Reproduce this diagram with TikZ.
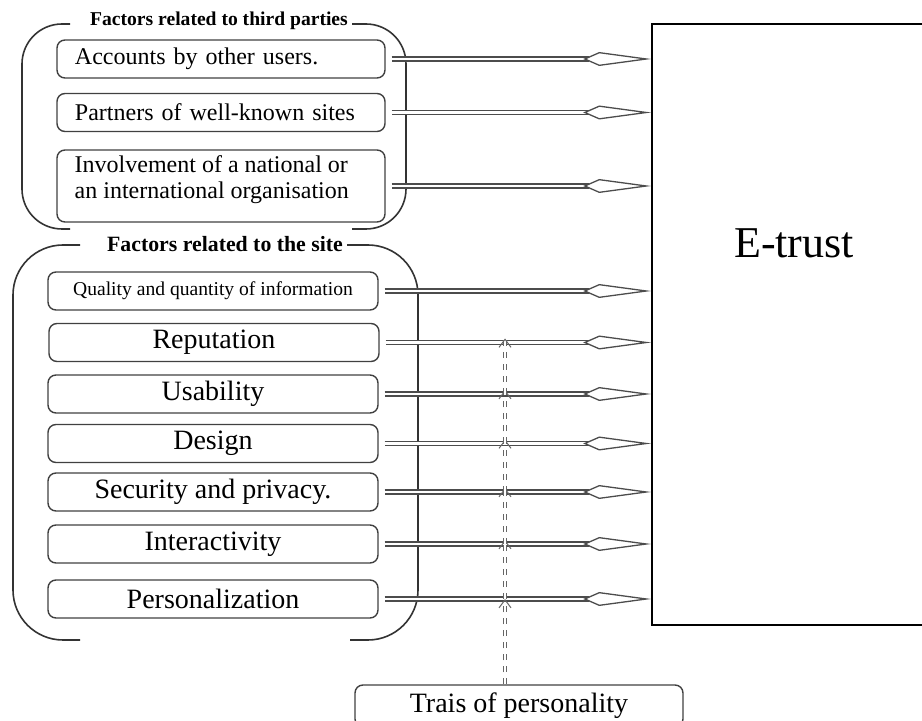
\documentclass[tikz,border=0pt]{standalone}
\usepackage{fontspec}
\setmainfont{Liberation Serif}
\usetikzlibrary{arrows.meta}

\begin{document}
\begin{tikzpicture}[x=0.5pt, y=-0.5pt,
  factor/.style={draw=black!75, line width=0.7pt, rounded corners=4pt, inner sep=0pt, minimum height=19pt},
  thirdbox/.style={factor, font=\fontsize{12}{13}\selectfont, text width=146pt, inner xsep=9pt, align=left},
  sitebox/.style={factor, font=\fontsize{14}{16}\selectfont, minimum width=165pt},
  group/.style={draw=black!80, line width=0.8pt},
  grouptitle/.style={font=\bfseries, inner sep=1pt},
  link/.style={draw=black!70, line width=0.65pt, double=white, double distance=1.3pt,
    -{Kite[open, length=34pt, width=7pt, inset=8pt]}},
  traitlink/.style={draw=black!60, dashed, line width=0.5pt, double=white, double distance=1.3pt,
    -{Straight Barb[length=4pt, width=6pt]}}]

\useasboundingbox (0,0) rectangle (922,721);

% Groupes
\draw[group, rounded corners=20pt] (70,24) -- (22,24) -- (22,229) -- (70,229);
\draw[group, rounded corners=20pt] (352,24) -- (406,24) -- (406,229) -- (352,229);
\node[grouptitle, font=\bfseries\fontsize{9.8}{11}\selectfont] (thirdtitle) at (219,21) {Factors related to third parties};

\draw[group, rounded corners=25pt] (80,245) -- (13,245) -- (13,640) -- (80,640);
\draw[group, rounded corners=25pt] (347,245) -- (418,245) -- (418,640) -- (350,640);
\node[grouptitle, font=\bfseries\fontsize{10.9}{12}\selectfont] (sitetitle) at (225,244) {Factors related to the site};

% Facteurs tiers
\node[thirdbox] (accounts) at (221,59) {Accounts by other users.};
\node[thirdbox] (partners) at (221,112.5) {Partners of well-known sites};
\node[factor, minimum width=164pt, minimum height=36pt] (involvement) at (221,186) {};
\node[anchor=north west, align=left, inner sep=0pt, font=\fontsize{12}{13}\selectfont]
  (involtext) at ([xshift=9pt, yshift=-3pt]involvement.north west)
  {Involvement of a national or\\an international organisation};

% Facteurs du site
\node[sitebox, font=\fontsize{9.8}{11}\selectfont] (quality) at (213,291) {Quality and quantity of information};
\node[sitebox] (reputation) at (214,342.5) {Reputation};
\node[sitebox] (usability) at (213,394) {Usability};
\node[sitebox] (design) at (213,443.5) {Design};
\node[sitebox] (security) at (213,492) {Security and privacy.};
\node[sitebox] (interactivity) at (213,544) {Interactivity};
\node[sitebox] (personalization) at (213,599) {Personalization};

% E-trust
\node[draw, line width=0.8pt, inner sep=0pt, minimum width=142pt, minimum height=300.5pt] (etrust) at (794,324.5) {};
\node[font=\fontsize{22}{24}\selectfont] (etrustlabel) at (794,243) {E-trust};

\node[factor, font=\fontsize{14}{16}\selectfont, minimum width=164pt, minimum height=21pt] (trait) at (519,706) {Trais of personality};

% Fleches
\foreach \f in {accounts, partners, involvement, quality, reputation, usability, design, security, interactivity, personalization}
  \draw[link, shorten <=3pt] (\f.east) -- (\f.east -| etrust.west);

\foreach \f/\n in {personalization/6, interactivity/5, security/4, design/3, usability/2, reputation/1}
  \coordinate (c\n) at (505,0 |- \f.east);

\draw[traitlink] (trait.north -| c6) -- (c6);
\foreach \a/\b in {6/5, 5/4, 4/3, 3/2, 2/1}
  \draw[traitlink, shorten >=-2pt] (c\a) -- (c\b);

\end{tikzpicture}
\end{document}
